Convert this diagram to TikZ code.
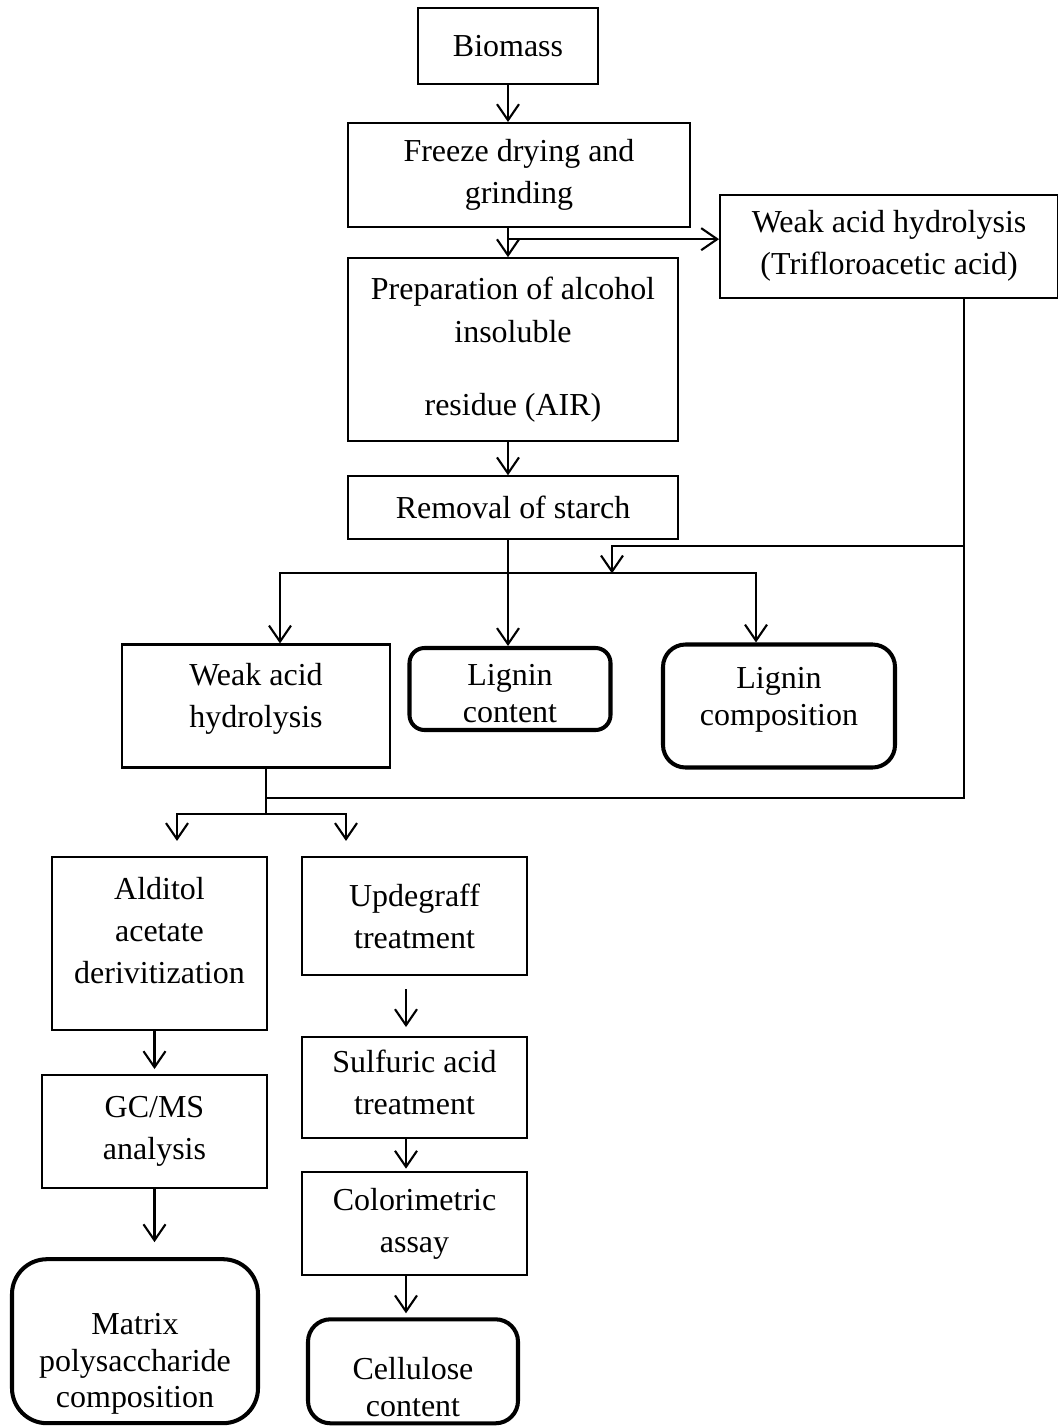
\documentclass[tikz,border=0pt]{standalone}
\usepackage{fontspec}
\setmainfont{Liberation Serif}
\usetikzlibrary{positioning,arrows.meta,calc}
\tikzset{
  flow/.style={-{Straight Barb[length=3.2mm,width=4.4mm]},line width=1.2pt},
  line/.style={line width=1.2pt},
  box/.style={draw,line width=1.2pt,align=center,inner sep=2pt,
    font=\fontsize{18.2}{24}\selectfont},
  endbox/.style={draw,line width=2.3pt,rounded corners=0.45cm,align=center,inner sep=2pt,
    font=\fontsize{18.2}{21}\selectfont}
}
\begin{document}
\begin{tikzpicture}
  \useasboundingbox (0,0) rectangle (21.16,-28.52);
  % main column
  \node[box,minimum width=3.6cm,minimum height=1.52cm] (bio) at (10.16,-0.92) {Biomass};
  \node[box,below=0.74cm of bio,xshift=0.22cm,minimum width=6.84cm,minimum height=2.08cm] (dry) {Freeze drying and\\grinding};
  \node[box,below=0.58cm of dry,xshift=-0.12cm,minimum width=6.6cm,minimum height=3.66cm] (air) {Preparation of alcohol\\insoluble\\[0.62cm]residue (AIR)};
  \node[box,below=0.66cm of air,minimum width=6.6cm,minimum height=1.26cm] (starch) {Removal of starch};
  \node[box,right=0.56cm of dry,yshift=-1.42cm,minimum width=6.76cm,minimum height=2.06cm] (tfa) {Weak acid hydrolysis\\(Trifloroacetic acid)};
  % second row
  \node[box,minimum width=5.36cm,minimum height=2.46cm] (weak) at (5.12,-14.12) {Weak acid\\hydrolysis\rule[-0.42cm]{0pt}{0.42cm}};
  \node[endbox,rounded corners=0.3cm,minimum width=4.02cm,minimum height=1.64cm] (lcont) at (10.2,-13.78) {\rule{0pt}{0.62cm}Lignin\\content};
  \node[endbox,minimum width=4.64cm,minimum height=2.46cm] (lcomp) at (15.58,-14.12) {Lignin\\composition\rule[-0.4cm]{0pt}{0.4cm}};
  % left branch
  \node[box,minimum width=4.3cm,minimum height=3.46cm] (aldi) at (3.19,-18.87) {Alditol\\acetate\\derivitization\rule[-0.52cm]{0pt}{0.52cm}};
  \node[box,below=0.86cm of aldi,xshift=-0.1cm,minimum width=4.5cm,minimum height=2.26cm] (gcms) {GC/MS\\analysis};
  \node[endbox,below=1.36cm of gcms,xshift=-0.39cm,rounded corners=0.7cm,minimum width=4.92cm,minimum height=3.28cm] (matrix) {\rule{0pt}{1.33cm}Matrix\\polysaccharide\\composition};
  % right branch
  \node[box,minimum width=4.5cm,minimum height=2.36cm] (upde) at (8.29,-18.32) {Updegraff\\treatment};
  \node[box,below=1.2cm of upde,minimum width=4.5cm,minimum height=2.02cm] (sulf) {Sulfuric acid\\treatment\rule[-0.2cm]{0pt}{0.2cm}};
  \node[box,below=0.64cm of sulf,minimum width=4.5cm,minimum height=2.06cm] (color) {Colorimetric\\assay};
  \node[endbox,below=0.82cm of color,xshift=-0.03cm,minimum width=4.2cm,minimum height=2.08cm] (cell) {\rule{0pt}{1.06cm}Cellulose\\content};
  % junction points
  \coordinate (split) at ([yshift=-0.22cm]bio |- dry.south);
  \coordinate (fork) at ([yshift=-0.66cm]bio |- starch.south);
  \coordinate (bend) at (12.24,-10.92);
  \coordinate (merge) at ([xshift=0.2cm,yshift=-0.58cm]weak.south);
  \coordinate (hub) at ([xshift=0.2cm,yshift=-0.9cm]weak.south);
  % connectors
  \draw[flow] (bio) -- (bio |- dry.north);
  \draw[flow] (bio |- dry.south) -- (bio |- air.north);
  \draw[flow] (split) -- (split -| tfa.west);
  \draw[flow] (bio |- air.south) -- (bio |- starch.north);
  \draw[flow] (bio |- starch.south) -- (bio |- lcont.north);
  \draw[flow] (fork) -| ([xshift=0.48cm]weak.north);
  \draw[flow] (fork) -| ([xshift=-0.46cm]lcomp.north);
  \draw[line] ([xshift=1.5cm]tfa.south) |- (merge);
  \draw[flow] ([xshift=1.5cm]tfa.south |- bend) -| (bend |- fork);
  \draw[line] ([xshift=0.2cm]weak.south) -- (hub);
  \draw[flow,shorten >=0.3cm] (hub) -| ([xshift=0.35cm]aldi.north);
  \draw[flow,shorten >=0.3cm] (hub) -| ([xshift=-1.37cm]upde.north);
  \draw[flow,shorten >=0.1cm] (gcms.north |- aldi.south) -- (gcms.north);
  \draw[flow,shorten >=0.3cm] (gcms.south) -- (gcms.south |- matrix.north);
  \draw[flow,shorten <=0.26cm,shorten >=0.18cm] ([xshift=-0.17cm]upde.south) -- ([xshift=-0.17cm]upde.south |- sulf.north);
  \draw[flow,shorten >=0.05cm] ([xshift=-0.17cm]sulf.south) -- ([xshift=-0.17cm]sulf.south |- color.north);
  \draw[flow,shorten >=0.08cm] ([xshift=-0.17cm]color.south) -- ([xshift=-0.17cm]color.south |- cell.north);
\end{tikzpicture}
\end{document}
